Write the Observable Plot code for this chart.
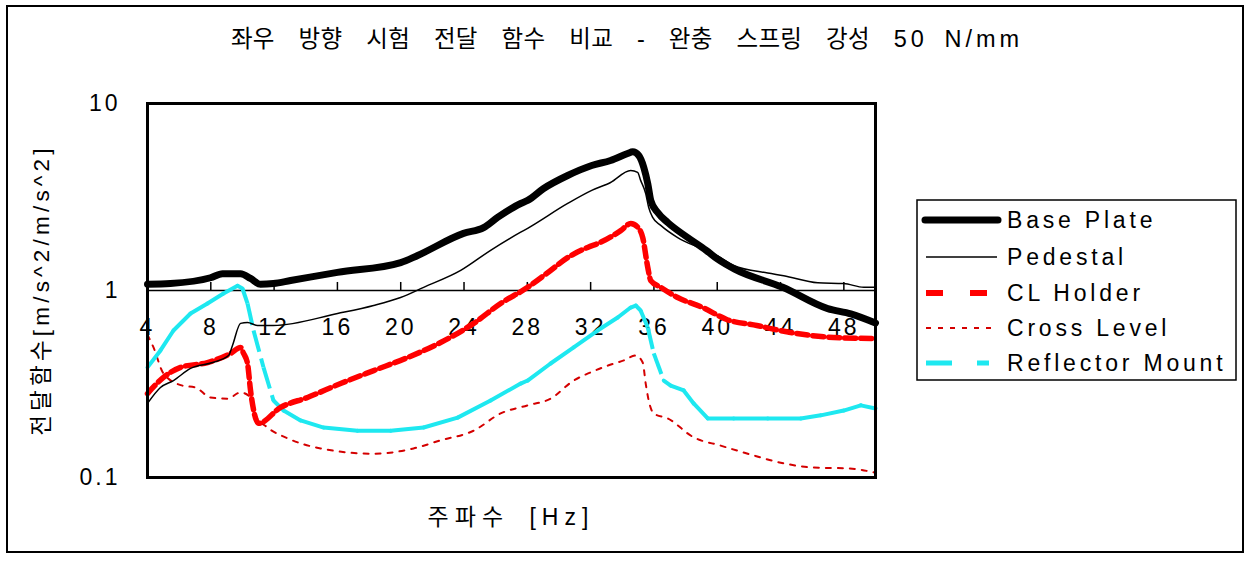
<!DOCTYPE html>
<html>
<head>
<meta charset="utf-8">
<script src="https://cdn.jsdelivr.net/npm/d3@7"></script>
<script src="https://cdn.jsdelivr.net/npm/@observablehq/plot@0.6"></script>
<style>
  html, body { margin: 0; padding: 0; background: #fff; }
  #wrap { position: relative; width: 1254px; height: 567px; overflow: hidden; background: #fff; }
  #outer { position: absolute; left: 6px; top: 5px; width: 1238px; height: 548px; border: 2px solid #000; box-sizing: border-box; }
  .lbl { position: absolute; color: #000; white-space: nowrap; font-family: "Liberation Sans", "Noto Sans CJK KR", sans-serif; }
  #title { left: 0; top: 27px; width: 1254px; text-align: center; font-size: 23.5px; line-height: 24px; letter-spacing: 0.3px; word-spacing: 17px; }
  #title .lat { letter-spacing: 4px; word-spacing: 6px; }
  #xlabel { left: 147px; top: 505px; width: 728px; text-align: center; font-size: 23px; line-height: 24px; letter-spacing: 6px; word-spacing: 8px; }
  #ylabel { left: -158px; top: 278px; width: 400px; text-align: center; font-size: 22.5px; line-height: 24px; letter-spacing: 4.2px; transform: rotate(-90deg); }
  #plot, #legend { position: absolute; left: 0; top: 0; }
</style>
</head>
<body>
<div id="wrap">
  <div id="outer"></div>
  <div id="plot"></div>
  <div id="title" class="lbl">좌우 방향 시험 전달 함수 비교 - 완충 스프링 강성 <span class="lat">50 N/mm</span></div>
  <div id="xlabel" class="lbl">주파수 [Hz]</div>
  <div id="ylabel" class="lbl">전달함수[m/s^2/m/s^2]</div>
  <svg id="legend" width="1254" height="567"></svg>
</div>
<script>
// ---- data ----
const seriesNames = ["Base Plate", "Pedestal", "CL Holder", "Cross Level", "Reflector Mount"];
const xTicks = [4, 8, 12, 16, 20, 24, 28, 32, 36, 40, 44, 48];
const yTicks = [0.1, 1, 10];
const yTickLabels = ["0.1", "1", "10"];

const basePlateHz = [4.0, 5.45, 7.98, 8.74, 9.88, 10.51, 11.14, 11.96, 13.04, 16.0, 20.0, 21.07, 23.97, 25.24, 26.12, 27.58, 28.02, 29.03, 30.55, 32.07, 33.26, 34.34, 34.66, 35.04, 35.36, 35.61, 35.80, 36.24, 36.87, 38.13, 39.3, 40.03, 41.1, 44.14, 46.98, 48.44, 50.0];
const basePlate   = [1.08, 1.09, 1.17, 1.23, 1.23, 1.16, 1.08, 1.09, 1.13, 1.25, 1.41, 1.54, 2.02, 2.17, 2.46, 2.92, 3.03, 3.51, 4.12, 4.66, 4.96, 5.40, 5.52, 5.27, 4.55, 3.73, 3.03, 2.61, 2.31, 1.92, 1.64, 1.47, 1.30, 1.04, 0.80, 0.75, 0.67];

const pedestalHz = [4.0, 4.82, 5.64, 6.72, 8.11, 9.12, 9.37, 9.88, 10.32, 10.95, 11.96, 16.01, 18.29, 19.99, 21.45, 23.79, 25.68, 27.58, 28.02, 30.55, 32.07, 33.26, 34.53, 34.97, 35.16, 35.48, 35.67, 35.92, 36.43, 37.50, 38.96, 40.22, 41.04, 43.19, 44.20, 46.35, 47.99, 49.26, 50.0];
const pedestal   = [0.249, 0.303, 0.330, 0.383, 0.412, 0.449, 0.508, 0.667, 0.674, 0.650, 0.650, 0.753, 0.831, 0.917, 1.04, 1.28, 1.64, 2.05, 2.15, 2.92, 3.43, 3.78, 4.38, 4.28, 3.88, 3.30, 2.78, 2.46, 2.23, 1.92, 1.68, 1.50, 1.36, 1.24, 1.20, 1.10, 1.09, 1.04, 1.04];

const clHolderHz = [4.0, 5.01, 6.09, 7.79, 9.25, 9.88, 10.07, 10.32, 10.51, 11.02, 12.41, 14.11, 16.20, 18.29, 20.43, 22.52, 24.61, 26.31, 28.02, 29.47, 30.55, 31.81, 32.63, 33.9, 34.53, 35.04, 35.29, 35.61, 35.80, 36.43, 37.5, 39.1, 40.6, 42.5, 44.0, 47.36, 50.0];
const clHolder   = [0.281, 0.343, 0.388, 0.412, 0.461, 0.496, 0.461, 0.407, 0.292, 0.195, 0.237, 0.268, 0.318, 0.373, 0.438, 0.527, 0.667, 0.852, 1.04, 1.28, 1.50, 1.70, 1.81, 2.09, 2.28, 2.15, 1.92, 1.33, 1.13, 1.04, 0.917, 0.81, 0.70, 0.65, 0.61, 0.561, 0.554];

const crossLevelHz = [4.0, 4.38, 5.01, 6.21, 7.03, 7.98, 9.06, 9.88, 10.51, 10.83, 11.59, 12.85, 14.94, 18.29, 20.81, 22.52, 24.61, 26.31, 28.02, 29.47, 30.93, 32.0, 33.1, 34.1, 34.85, 35.29, 35.48, 35.67, 35.99, 36.87, 38.51, 40.22, 41.93, 44.01, 46.10, 48.24, 50.0];
const crossLevel   = [0.58, 0.496, 0.360, 0.310, 0.303, 0.268, 0.264, 0.285, 0.268, 0.215, 0.185, 0.162, 0.143, 0.134, 0.143, 0.158, 0.178, 0.220, 0.243, 0.264, 0.330, 0.365, 0.397, 0.423, 0.449, 0.412, 0.318, 0.258, 0.220, 0.207, 0.164, 0.148, 0.134, 0.120, 0.113, 0.112, 0.106];

const reflectorHz = [4.0, 4.82, 5.64, 6.72, 7.79, 8.80, 9.69, 10.0, 10.32, 10.70, 11.33, 11.96, 12.60, 13.67, 15.13, 17.27, 19.36, 21.45, 23.60, 25.68, 27.58, 28.02, 29.47, 30.93, 32.44, 33.71, 34.53, 34.85, 35.16, 35.61, 35.99, 36.62, 37.06, 37.88, 38.51, 39.40, 41.04, 43.19, 45.28, 46.54, 47.99, 49.07, 50.0];
const reflector   = [0.388, 0.478, 0.611, 0.753, 0.852, 0.963, 1.06, 1.025, 0.852, 0.611, 0.388, 0.258, 0.228, 0.202, 0.185, 0.178, 0.178, 0.185, 0.209, 0.258, 0.318, 0.330, 0.407, 0.496, 0.611, 0.717, 0.811, 0.831, 0.782, 0.634, 0.461, 0.330, 0.310, 0.292, 0.249, 0.207, 0.207, 0.207, 0.207, 0.215, 0.228, 0.243, 0.234];

// ---- build tables ----
const rows = (hz, v) => hz.map((f, i) => ({hz: f, v: v[i]}));
const base = rows(basePlateHz, basePlate);
const ped = rows(pedestalHz, pedestal);
const clh = rows(clHolderHz, clHolder);
const crl = rows(crossLevelHz, crossLevel);
const refl = rows(reflectorHz, reflector);

// Excel restarts the dash pattern at each point, so only long (steep) segments show gaps
const reflSegs = d3.pairs(refl).map(([a, b]) => ({
  x1: a.hz, y1: a.v, x2: b.hz, y2: b.v,
  steep: Math.abs(Math.log10(b.v / a.v)) / (b.hz - a.hz) > 0.15
}));

const RED = "#ff0000", DRED = "#d40000", CYAN = "#1ee8f0";
const CURVE = "monotone-x";

const chart = Plot.plot({
  width: 1254,
  height: 567,
  marginLeft: 147,
  marginRight: 379,
  marginTop: 103,
  marginBottom: 90,
  style: {fontFamily: "'Liberation Sans', Arial, sans-serif", fontSize: "23px", letterSpacing: "3px", background: "transparent", overflow: "visible", color: "#000"},
  x: {type: "linear", domain: [4, 50], axis: null},
  y: {type: "log", domain: [0.1, 10]},
  marks: [
    Plot.ruleY([1], {stroke: "#000", strokeWidth: 1.5}),
    Plot.ruleX(xTicks.filter(d => d > 4), {x: d => d, y1: 1, y2: 1.104, stroke: "#000", strokeWidth: 1.5}),
    Plot.text(xTicks, {x: d => d, y: 1, text: d => String(d), dy: 37, fontSize: 23, fill: "#000"}),
    Plot.axisY(yTicks, {tickSize: 0, tickPadding: 27, fontSize: 23, label: null, tickFormat: d => yTickLabels[yTicks.indexOf(d)]}),
    Plot.line(crl, {x: "hz", y: "v", stroke: DRED, strokeWidth: 2, strokeDasharray: "5,7", curve: CURVE}),
    Plot.link(reflSegs.filter(s => !s.steep), {x1: "x1", y1: "y1", x2: "x2", y2: "y2", stroke: CYAN, strokeWidth: 4, strokeLinecap: "round"}),
    Plot.link(reflSegs.filter(s => s.steep), {x1: "x1", y1: "y1", x2: "x2", y2: "y2", stroke: CYAN, strokeWidth: 4, strokeDasharray: "22,7,9,7"}),
    Plot.line(clh, {x: "hz", y: "v", stroke: RED, strokeWidth: 5.5, strokeDasharray: "11,5", curve: CURVE}),
    Plot.line(ped, {x: "hz", y: "v", stroke: "#000", strokeWidth: 1.5, curve: CURVE}),
    Plot.line(base, {x: "hz", y: "v", stroke: "#000", strokeWidth: 7, strokeLinejoin: "round", strokeLinecap: "round", curve: CURVE}),
    Plot.frame({stroke: "#000", strokeWidth: 3})
  ]
});
document.getElementById("plot").appendChild(chart);

// ---- legend ----
const lg = d3.select("#legend");
lg.append("rect").attr("x", 917).attr("y", 200).attr("width", 319).attr("height", 180)
  .attr("fill", "#fff").attr("stroke", "#000").attr("stroke-width", 1.5);
const legendStyles = [
  {stroke: "#000", width: 7, dash: null, x1: 925, x2: 998, cap: "round"},
  {stroke: "#000", width: 1.5, dash: null, x1: 926, x2: 997, cap: "butt"},
  {stroke: RED, width: 6, dash: "17,27", x1: 926, x2: 988, cap: "butt"},
  {stroke: DRED, width: 2, dash: "5,7", x1: 926, x2: 991, cap: "butt"},
  {stroke: CYAN, width: 5, dash: "26,25,12", x1: 926, x2: 989, cap: "butt"}
];
const rowY = [220, 257, 293, 328, 363];
seriesNames.forEach((name, i) => {
  const s = legendStyles[i];
  lg.append("line").attr("x1", s.x1).attr("x2", s.x2).attr("y1", rowY[i]).attr("y2", rowY[i])
    .attr("stroke", s.stroke).attr("stroke-width", s.width).attr("stroke-linecap", s.cap)
    .attr("stroke-dasharray", s.dash);
  lg.append("text").attr("x", 1007).attr("y", rowY[i]).attr("dy", "0.35em")
    .attr("font-family", "'Liberation Sans', Arial, sans-serif").attr("font-size", 23)
    .attr("letter-spacing", 3.8).attr("fill", "#000").text(name);
});
</script>
</body>
</html>
